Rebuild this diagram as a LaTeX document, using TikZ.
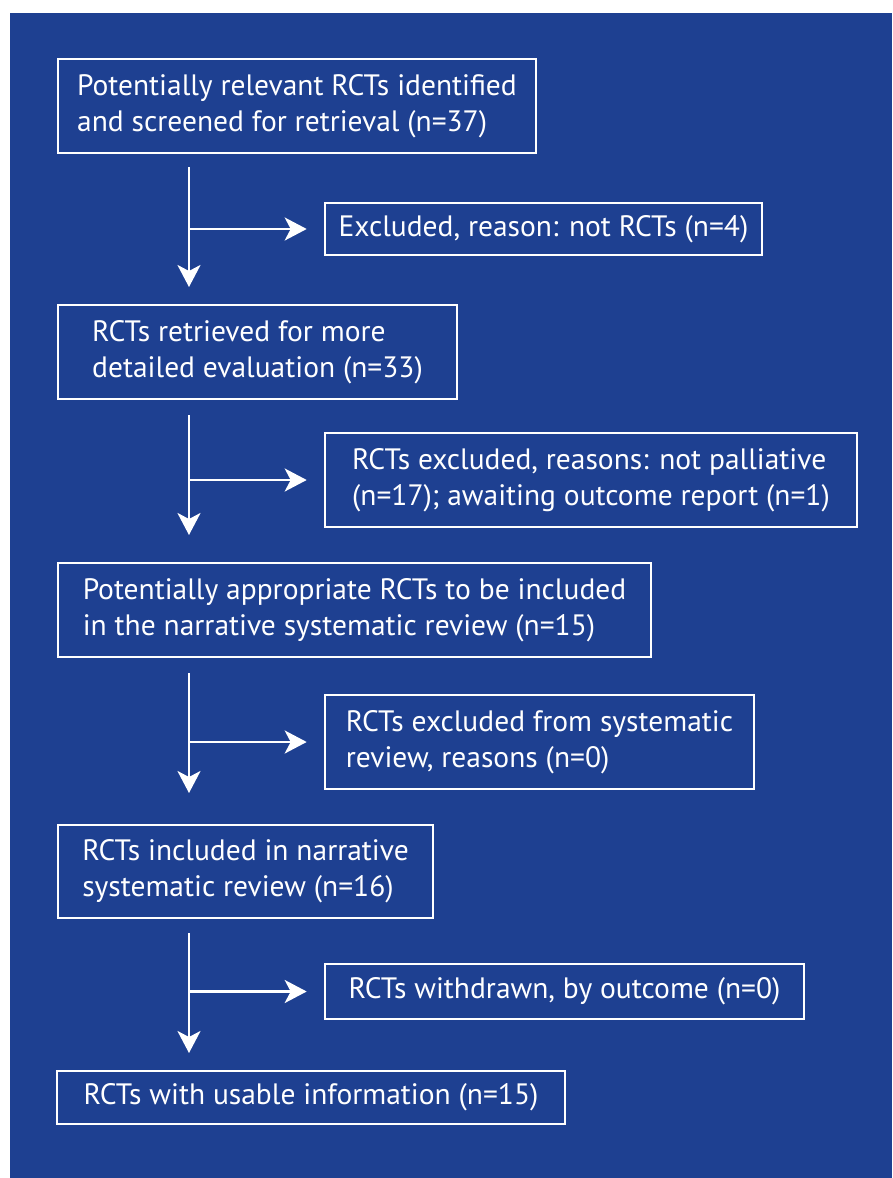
\documentclass[tikz,border=0pt]{standalone}
\usepackage{fontspec}
\setmainfont{PT Sans}
\usetikzlibrary{arrows.meta,calc}
\definecolor{bgblue}{RGB}{30,64,145}
\begin{document}
\begin{tikzpicture}[x=1pt,y=-1pt,
  box/.style={draw=white,line width=2.6pt,text=white,align=left,inner sep=0pt,
    font=\fontsize{29.5}{36}\selectfont},
  arr/.style={draw=white,line width=2.6pt,-{Stealth[length=22pt,width=23pt,inset=6pt]}}]
\useasboundingbox (0,0) rectangle (892,1178);
\fill[white] (0,0) rectangle (892,1178);
\fill[bgblue] (10,13) rectangle (892,1178);
% main boxes
\node[box,minimum width=478pt,minimum height=94pt] (b1) at (297,106)
  {Potentially relevant RCTs identified\\and screened for retrieval (n=37)};
\node[box,minimum width=437pt,minimum height=52pt] (e1) at (543.5,229)
  {Excluded, reason: not RCTs (n=4)};
\node[box,minimum width=399pt,minimum height=94pt] (b2) at (257.5,352)
  {RCTs retrieved for more\\detailed evaluation (n=33)};
\node[box,minimum width=532pt,minimum height=94pt] (e2) at (591,480)
  {RCTs excluded, reasons: not palliative\\(n=17); awaiting outcome report (n=1)};
\node[box,minimum width=593pt,minimum height=94pt] (b3) at (354.5,610)
  {Potentially appropriate RCTs to be included\\in the narrative systematic review (n=15)};
\node[box,minimum width=429pt,minimum height=94pt] (e3) at (539.5,742)
  {RCTs excluded from systematic\\review, reasons (n=0)};
\node[box,minimum width=375pt,minimum height=93pt] (b4) at (245.5,871.5)
  {RCTs included in narrative\\systematic review (n=16)};
\node[box,minimum width=479pt,minimum height=55pt] (e4) at (564.5,991.5)
  {RCTs withdrawn, by outcome (n=0)};
\node[box,minimum width=508pt,minimum height=53pt] (b5) at (311,1097.5)
  {RCTs with usable information (n=15)};
% connector coordinates
\coordinate (s1) at (189,167); \coordinate (t1) at (189,287);
\coordinate (s2) at (189,415); \coordinate (t2) at (189,535);
\coordinate (s3) at (189,673); \coordinate (t3) at (189,793);
\coordinate (s4) at (189,933); \coordinate (t4) at (189,1053);
\draw[arr] (s1) -- (t1);
\draw[arr] (s1 |- e1.west) -- ([xshift=-17pt]e1.west);
\draw[arr] (s2) -- (t2);
\draw[arr] (s2 |- e2.west) -- ([xshift=-17pt]e2.west);
\draw[arr] (s3) -- (t3);
\draw[arr] (s3 |- e3.west) -- ([xshift=-17pt]e3.west);
\draw[arr] (s4) -- (t4);
\draw[arr] (s4 |- e4.west) -- ([xshift=-17pt]e4.west);
\end{tikzpicture}
\end{document}
